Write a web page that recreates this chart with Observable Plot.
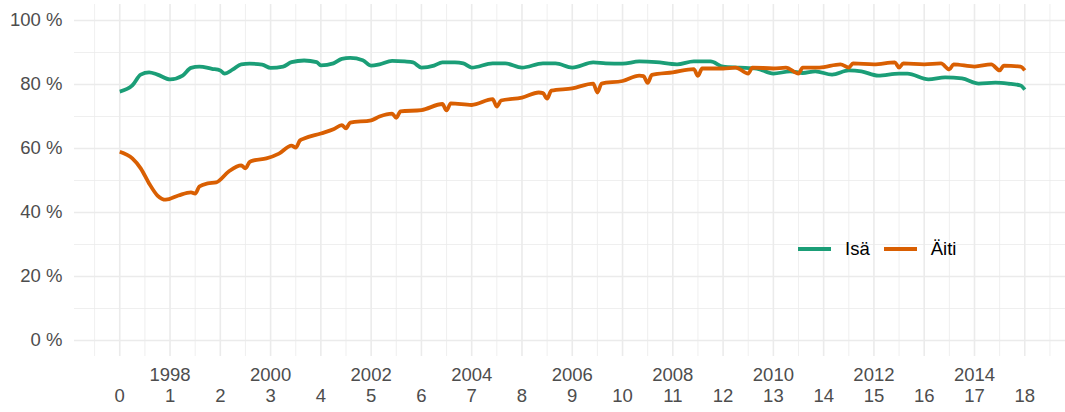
<!DOCTYPE html>
<html>
<head>
<meta charset="utf-8">
<script src="https://cdn.jsdelivr.net/npm/d3@7"></script>
<script src="https://cdn.jsdelivr.net/npm/@observablehq/plot@0.6"></script>
<style>
  html, body { margin: 0; padding: 0; background: #fff; }
  #wrap { position: relative; width: 1065px; height: 412px; font-family: "Liberation Sans", Arial, Helvetica, sans-serif; }
  #legend { position: absolute; left: 798px; top: 238px; display: flex; align-items: center; font-size: 18.5px; color: #000; }
  #legend .sw { display: inline-block; width: 33px; height: 4px; margin-right: 14px; }
  #legend .lab { margin-right: 14px; }
</style>
</head>
<body>
<div id="wrap"><div id="legend"></div></div>
<script>
// Series names and colours
const seriesNames = ["Isä", "Äiti"];
const seriesColors = ["#1b9e77", "#d95f02"];

// Isä (father): month offset from start, share in %
const isaMonth = [0, 3, 5, 7, 9, 12, 15, 17, 19, 22, 24, 25, 27, 29, 31, 34, 36, 39, 41, 44, 47, 48, 51, 53, 55, 58, 60, 62, 65, 68, 70, 72, 75, 77, 80, 82, 84, 89, 92, 96, 101, 104, 108, 113, 116, 120, 124, 128, 133, 137, 141, 144, 148, 152, 156, 160, 163, 166, 170, 174, 177, 181, 186, 188, 193, 197, 201, 205, 209, 212, 215, 216];
const isaValue = [77.8, 79.7, 83.1, 83.8, 83.1, 81.6, 82.8, 85.2, 85.6, 84.9, 84.4, 83.4, 84.7, 86.3, 86.5, 86.2, 85.2, 85.6, 87.0, 87.5, 87.0, 86.0, 86.6, 88.0, 88.3, 87.6, 85.9, 86.3, 87.4, 87.2, 86.9, 85.3, 85.9, 86.9, 86.9, 86.6, 85.3, 86.6, 86.6, 85.3, 86.6, 86.6, 85.3, 86.9, 86.6, 86.5, 87.2, 87.0, 86.3, 87.2, 87.2, 85.6, 85.3, 85.0, 83.4, 84.1, 83.6, 84.1, 83.1, 84.4, 84.1, 82.8, 83.4, 83.4, 81.6, 82.2, 81.9, 80.3, 80.6, 80.3, 79.7, 78.4];

// Äiti (mother): month offset from start, share in %
const aitiMonth = [0, 3, 5, 7, 9, 11, 14, 17, 18, 19, 21, 23, 26, 29, 30, 31, 32, 35, 38, 41, 42, 43, 44, 48, 51, 53, 54, 55, 60, 62, 65, 66, 67, 72, 77, 78, 79, 84, 89, 90, 91, 96, 100, 101, 102, 103, 108, 113, 114, 115, 120, 124, 125, 126, 127, 132, 137, 138, 139, 144, 147, 150, 151, 156, 159, 162, 163, 167, 172, 174, 175, 180, 185, 186, 187, 192, 196, 198, 199, 204, 208, 210, 211, 215, 216];
const aitiValue = [59.0, 56.9, 53.8, 49.1, 45.3, 44.0, 45.3, 46.3, 45.9, 48.1, 49.1, 49.4, 52.8, 54.7, 53.8, 55.8, 56.3, 56.9, 58.4, 60.9, 60.3, 62.5, 63.1, 64.7, 66.0, 67.3, 66.3, 68.1, 68.8, 70.0, 70.9, 69.6, 71.6, 72.0, 73.9, 71.9, 74.1, 73.6, 75.4, 73.1, 75.0, 75.9, 77.5, 77.3, 75.6, 78.1, 78.8, 80.3, 77.5, 80.3, 81.1, 82.8, 82.6, 80.5, 83.0, 83.8, 84.8, 82.7, 85.0, 85.0, 85.3, 83.4, 85.3, 85.0, 85.3, 83.4, 85.3, 85.3, 86.3, 85.3, 86.6, 86.3, 86.9, 85.3, 86.6, 86.3, 86.6, 84.7, 86.3, 85.6, 86.3, 84.4, 85.9, 85.6, 84.4];

// Axis ticks
const ageTicks = [0, 1, 2, 3, 4, 5, 6, 7, 8, 9, 10, 11, 12, 13, 14, 15, 16, 17, 18];
const yearTicks = [1998, 2000, 2002, 2004, 2006, 2008, 2010, 2012, 2014];
const startYear = 1997;
const yTicks = [0, 20, 40, 60, 80, 100];
const yMinorTicks = [10, 30, 50, 70, 90];
const xMinorTicks = [-0.5, 0.5, 1.5, 2.5, 3.5, 4.5, 5.5, 6.5, 7.5, 8.5, 9.5, 10.5, 11.5, 12.5, 13.5, 14.5, 15.5, 16.5, 17.5, 18.5];

const xDomain = [-0.9, 18.81];
const yDomain = [-5, 105];

const rows = [
  ...isaMonth.map((m, i) => ({t: m / 12, v: isaValue[i], s: seriesNames[0]})),
  ...aitiMonth.map((m, i) => ({t: m / 12, v: aitiValue[i], s: seriesNames[1]}))
];

const font = "Liberation Sans, Arial, Helvetica, sans-serif";
const grid = "#ebebeb";
const tickCol = "#4d4d4d";

const chart = Plot.plot({
  width: 1065,
  height: 412,
  marginLeft: 74,
  marginRight: 0,
  marginTop: 4,
  marginBottom: 56,
  style: {fontFamily: font, background: "white", overflow: "visible"},
  x: {domain: xDomain, axis: null},
  y: {domain: yDomain, axis: null},
  color: {domain: seriesNames, range: seriesColors},
  marks: [
    Plot.ruleY(yMinorTicks, {stroke: grid, strokeWidth: 0.8}),
    Plot.ruleX(xMinorTicks, {stroke: grid, strokeWidth: 0.8}),
    Plot.ruleY(yTicks, {stroke: grid, strokeWidth: 1.6}),
    Plot.ruleX(ageTicks, {stroke: grid, strokeWidth: 1.6}),
    Plot.line(rows, {x: "t", y: "v", z: "s", stroke: "s", strokeWidth: 3.8, curve: "monotone-x", strokeLinejoin: "round", strokeLinecap: "butt"}),
    Plot.text(yTicks, {x: xDomain[0], y: d => d, text: d => d + " %", textAnchor: "end", dx: -12, fontSize: 18.5, fill: tickCol}),
    Plot.text(ageTicks, {x: d => d, y: yDomain[0], text: d => String(d), dy: 40, fontSize: 18.5, fill: tickCol}),
    Plot.text(yearTicks, {x: d => d - startYear, y: yDomain[0], text: d => String(d), dy: 19, fontSize: 18.5, fill: tickCol})
  ]
});

const wrap = document.getElementById("wrap");
wrap.insertBefore(chart, wrap.firstChild);

const legend = document.getElementById("legend");
seriesNames.forEach((name, i) => {
  const sw = document.createElement("span");
  sw.className = "sw";
  sw.style.background = seriesColors[i];
  const lab = document.createElement("span");
  lab.className = "lab";
  lab.textContent = name;
  legend.appendChild(sw);
  legend.appendChild(lab);
});
</script>
</body>
</html>
